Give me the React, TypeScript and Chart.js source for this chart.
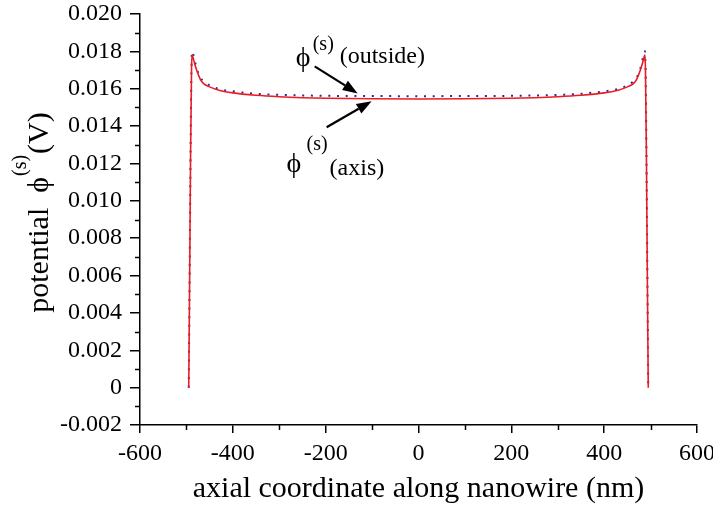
import React, { useEffect, useRef } from "react";
import { Chart, registerables } from "chart.js";

Chart.register(...registerables);

// axial coordinate (nm)
const xPositions = [
  -495, -493, -491, -489, -488, -486, -483, -478, -470, -463, -450, -428, -400, -350, -300, -250, -200, -100, 0,
  100, 200, 250, 300, 350, 400, 428, 450, 463, 470, 478, 483, 486, 488, 489, 491, 493, 495,
];
// phi^(s) on the axis (V) - red solid
const phiAxis = [
  0, 0.006, 0.0125, 0.017, 0.0178, 0.0177, 0.0174, 0.017, 0.0165, 0.01627, 0.0161, 0.01591, 0.01578, 0.01565, 0.01557, 0.01552, 0.01549, 0.01546, 0.01545,
  0.01546, 0.01549, 0.01552, 0.01557, 0.01565, 0.01578, 0.01591, 0.0161, 0.01627, 0.0165, 0.017, 0.0174, 0.0177, 0.0178, 0.017, 0.0125, 0.006, 0,
];
// phi^(s) outside (V) - blue dotted
const phiOutside = [
  0, 0.0062, 0.0128, 0.0173, 0.018, 0.0179, 0.0176, 0.0171, 0.0166, 0.0164, 0.01618, 0.01597, 0.01586, 0.01573, 0.01567, 0.01564, 0.01562, 0.01561, 0.0156,
  0.01561, 0.01562, 0.01564, 0.01567, 0.01573, 0.01586, 0.01597, 0.01618, 0.0164, 0.0166, 0.0171, 0.0176, 0.0179, 0.018, 0.0173, 0.0128, 0.0062, 0,
];

const xMinorTicks = [-500, -300, -100, 100, 300, 500];
const yMinorTicks = [-0.001, 0.001, 0.003, 0.005, 0.007, 0.009, 0.011, 0.013, 0.015, 0.017, 0.019];

const xTitle = "axial coordinate along nanowire (nm)";
const yTitleMain = "potential  ";
const PHI = "\u03D5";
const SUP = "(s)";
const yTitleUnit = "(V)";
const outsideLabel = "(outside)";
const axisLabel = "(axis)";

const FONT = "'Liberation Serif', 'Times New Roman', serif";

function drawArrow(ctx: CanvasRenderingContext2D, x0: number, y0: number, x1: number, y1: number) {
  const ang = Math.atan2(y1 - y0, x1 - x0);
  const hl = 15;
  const hw = 5.5;
  const bx = x1 - hl * Math.cos(ang);
  const by = y1 - hl * Math.sin(ang);
  ctx.save();
  ctx.strokeStyle = "#000";
  ctx.fillStyle = "#000";
  ctx.lineWidth = 2.2;
  ctx.beginPath();
  ctx.moveTo(x0, y0);
  ctx.lineTo(bx, by);
  ctx.stroke();
  ctx.beginPath();
  ctx.moveTo(x1, y1);
  ctx.lineTo(bx - hw * Math.sin(ang), by + hw * Math.cos(ang));
  ctx.lineTo(bx + hw * Math.sin(ang), by - hw * Math.cos(ang));
  ctx.closePath();
  ctx.fill();
  ctx.restore();
}

const decorPlugin = {
  id: "decor",
  afterDraw(chart: any) {
    const ctx: CanvasRenderingContext2D = chart.ctx;
    const xs = chart.scales.x;
    const ys = chart.scales.y;
    const area = chart.chartArea;
    ctx.save();
    // minor ticks
    ctx.strokeStyle = "#000";
    ctx.lineWidth = 1.5;
    xMinorTicks.forEach((v) => {
      const px = Math.round(xs.getPixelForValue(v)) + 0.5;
      ctx.beginPath();
      ctx.moveTo(px, area.bottom);
      ctx.lineTo(px, area.bottom + 5);
      ctx.stroke();
    });
    yMinorTicks.forEach((v) => {
      const py = Math.round(ys.getPixelForValue(v)) + 0.5;
      ctx.beginPath();
      ctx.moveTo(area.left - 5, py);
      ctx.lineTo(area.left, py);
      ctx.stroke();
    });

    ctx.fillStyle = "#000";
    ctx.textBaseline = "alphabetic";
    ctx.textAlign = "left";

    // x title
    ctx.font = `30px ${FONT}`;
    const xtw = ctx.measureText(xTitle).width;
    ctx.fillText(xTitle, (area.left + area.right) / 2 - xtw / 2, 497);

    // y title (rotated)
    ctx.save();
    ctx.translate(48, (area.top + area.bottom) / 2 - 6);
    ctx.rotate(-Math.PI / 2);
    ctx.font = `30px ${FONT}`;
    const w1 = ctx.measureText(yTitleMain).width;
    const w2 = ctx.measureText(PHI).width;
    ctx.font = `20px ${FONT}`;
    const w3 = ctx.measureText(SUP).width;
    ctx.font = `30px ${FONT}`;
    const w4 = ctx.measureText(yTitleUnit).width;
    let cx = -(w1 + w2 + w3 + w4) / 2;
    ctx.fillText(yTitleMain, cx, 0);
    cx += w1;
    ctx.fillText(PHI, cx, 0);
    cx += w2 + 1;
    ctx.font = `20px ${FONT}`;
    ctx.fillText(SUP, cx, -22);
    cx += w3 + 1;
    ctx.font = `30px ${FONT}`;
    ctx.fillText(yTitleUnit, cx, 0);
    ctx.restore();

    // annotation: outside
    const t1x = xs.getPixelForValue(-131);
    const t1y = ys.getPixelForValue(0.01575);
    ctx.font = `28px ${FONT}`;
    ctx.fillText(PHI, t1x - 62, t1y - 27);
    ctx.font = `20px ${FONT}`;
    ctx.fillText(SUP, t1x - 45, t1y - 43);
    ctx.font = `24px ${FONT}`;
    ctx.fillText(outsideLabel, t1x - 18, t1y - 30);
    drawArrow(ctx, t1x - 43, t1y - 27, t1x, t1y);

    // annotation: axis
    const t2x = xs.getPixelForValue(-101);
    const t2y = ys.getPixelForValue(0.01533);
    ctx.font = `28px ${FONT}`;
    ctx.fillText(PHI, t2x - 85, t2y + 71);
    ctx.font = `20px ${FONT}`;
    ctx.fillText(SUP, t2x - 65, t2y + 49);
    ctx.font = `24px ${FONT}`;
    ctx.fillText(axisLabel, t2x - 42, t2y + 74);
    drawArrow(ctx, t2x - 45, t2y + 26, t2x, t2y);

    ctx.restore();
  },
};

export default function App() {
  const ref = useRef<HTMLCanvasElement | null>(null);
  useEffect(() => {
    if (!ref.current) return;
    const chart = new Chart(ref.current, {
      type: "line",
      data: {
        datasets: [
          {
            label: "axis",
            data: xPositions.map((x, i) => ({ x, y: phiAxis[i] })),
            borderColor: "#ec1c24",
            borderWidth: 1.6,
            pointRadius: 0,
            cubicInterpolationMode: "monotone",
            fill: false,
          },
          {
            label: "outside",
            data: xPositions.map((x, i) => ({ x, y: phiOutside[i] })),
            borderColor: "#2a2a9a",
            borderWidth: 2,
            borderDash: [2, 6.7],
            pointRadius: 0,
            cubicInterpolationMode: "monotone",
            fill: false,
          },
        ],
      },
      options: {
        responsive: false,
        animation: false,
        layout: { padding: { top: 14, right: 16, left: 0, bottom: 0 } },
        plugins: { legend: { display: false }, tooltip: { enabled: false } },
        scales: {
          x: {
            type: "linear",
            min: -600,
            max: 600,
            afterFit: (s: any) => {
              s.height = 81;
              s.paddingLeft = 0;
              s.paddingRight = 0;
            },
            ticks: {
              stepSize: 200,
              autoSkip: false,
              maxRotation: 0,
              color: "#000",
              padding: 6,
              font: { family: FONT, size: 24 },
            },
            grid: { display: true, drawOnChartArea: false, tickLength: 8, color: "#000", lineWidth: 1.5 },
            border: { display: true, color: "#000", width: 1.5 },
          },
          y: {
            type: "linear",
            min: -0.002,
            max: 0.02,
            afterFit: (s: any) => {
              s.width = 140;
              s.paddingTop = 0;
              s.paddingBottom = 0;
            },
            ticks: {
              stepSize: 0.002,
              autoSkip: false,
              color: "#000",
              padding: 8,
              font: { family: FONT, size: 24 },
              callback: (v: any) => (Math.abs(Number(v)) < 1e-9 ? "0" : Number(v).toFixed(3)),
            },
            grid: { display: true, drawOnChartArea: false, tickLength: 10, color: "#000", lineWidth: 1.5 },
            border: { display: true, color: "#000", width: 1.5 },
          },
        },
      },
      plugins: [decorPlugin],
    });
    return () => chart.destroy();
  }, []);
  return (
    <div style={{ position: "fixed", left: 0, top: 0, width: 713, height: 506, background: "#fff" }}>
      <canvas ref={ref} width={713} height={506} style={{ display: "block" }} />
    </div>
  );
}
